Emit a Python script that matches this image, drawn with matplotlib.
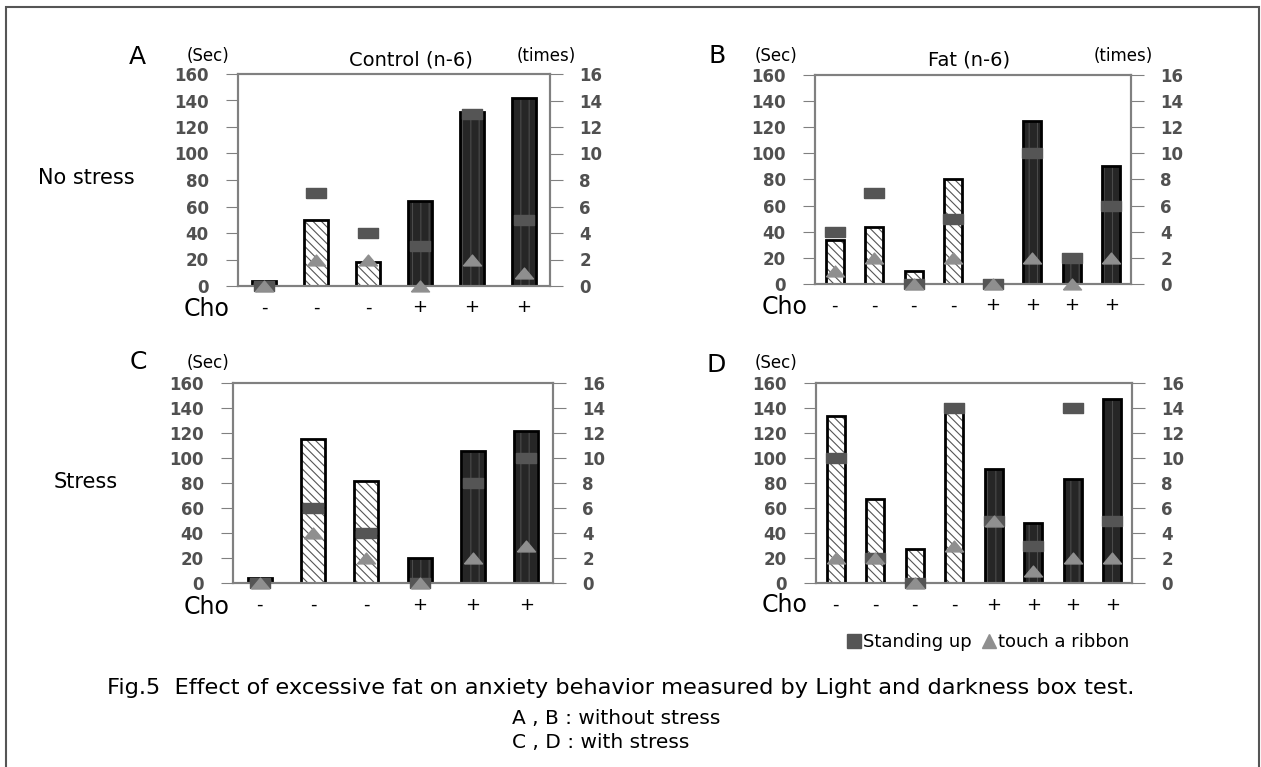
import numpy as np
import matplotlib.pyplot as plt
from matplotlib.lines import Line2D
from matplotlib.patches import Rectangle

# ------------------ DATA -----------------------------------------
cho_AC = ['-', '-', '-', '+', '+', '+']
cho_BD = ['-', '-', '-', '-', '+', '+', '+', '+']

sec_A = [4, 50, 18, 64, 131, 142]
stand_A = [0, 7, 4, 3, 13, 5]
ribbon_A = [0, 2, 2, 0, 2, 1]

sec_B = [34, 44, 10, 80, 0, 125, 18, 90]
stand_B = [4, 7, 0, 5, 0, 10, 2, 6]
ribbon_B = [1, 2, 0, 2, 0, 2, 0, 2]

sec_C = [4, 115, 82, 20, 106, 122]
stand_C = [0, 6, 4, 0, 8, 10]
ribbon_C = [0, 4, 2, 0, 2, 3]

sec_D = [134, 67, 27, 139, 91, 48, 83, 147]
stand_D = [10, 2, 0, 14, 5, 3, 14, 5]
ribbon_D = [2, 2, 0, 3, 5, 1, 2, 2]
# -----------------------------------------------------------------

W, H = 1261, 767
plt.rcParams['hatch.linewidth'] = 0.8

fig = plt.figure(figsize=(W / 100, H / 100), dpi=100)


def fx(px):
    return px / W


def fy(py):
    return 1 - py / H


def ftext(px, py, s, **kw):
    fig.text(fx(px), fy(py), s, ha=kw.pop('ha', 'center'), va=kw.pop('va', 'center'), **kw)


rect_marker = [(-1, -0.55), (1, -0.55), (1, 0.55), (-1, 0.55), (-1, -0.55)]
tri_marker = [(-1, -0.6), (1, -0.6), (0, 0.6), (-1, -0.6)]
frame_col = '#808080'


def panel(box, sec, stand, ribbon, cho):
    l, t, r, b = box
    ax = fig.add_axes([fx(l), fy(b), fx(r) - fx(l), fy(t) - fy(b)])
    x = np.arange(len(sec))
    for xi, v, c in zip(x, sec, cho):
        if c == '-':
            ax.bar(xi, v, width=0.45, color='white', hatch='\\\\\\\\',
                   edgecolor='#555555', linewidth=0)
        else:
            ax.bar(xi, v, width=0.45, color='#262626', hatch='||',
                   edgecolor='#4a4a4a', linewidth=0)
        ax.bar(xi, v, width=0.45, fill=False, edgecolor='black', linewidth=2)
    ax.set_xlim(-0.5, len(sec) - 0.5)
    ax.set_ylim(0, 160)
    ax.set_yticks(range(0, 161, 20))
    ax.set_xticks(x)
    ax.set_xticklabels(cho, fontsize=13)
    ax.tick_params(axis='x', length=0, pad=9)
    ax.tick_params(axis='y', direction='out', length=9, color=frame_col,
                   labelsize=12, labelcolor='#505050', pad=12)
    for lab in ax.get_yticklabels():
        lab.set_fontweight('bold')

    ax2 = ax.twinx()
    ax2.plot(x, stand, ls='none', marker=rect_marker, ms=14,
             color='#555555', clip_on=False, zorder=3)
    ax2.plot(x, ribbon, ls='none', marker=tri_marker, ms=13,
             color='#8f8f8f', clip_on=False, zorder=4)
    ax2.set_ylim(0, 16)
    ax2.set_yticks(range(0, 17, 2))
    ax2.tick_params(axis='y', direction='out', length=9, color=frame_col,
                    labelsize=12, labelcolor='#505050', pad=12)
    for lab in ax2.get_yticklabels():
        lab.set_fontweight('bold')
    for a in (ax, ax2):
        for sp in a.spines.values():
            sp.set_color(frame_col)
            sp.set_linewidth(1.5)
    return ax


panel((238, 74, 550, 286), sec_A, stand_A, ribbon_A, cho_AC)
panel((815, 75, 1131, 284), sec_B, stand_B, ribbon_B, cho_BD)
panel((233, 383, 553, 583), sec_C, stand_C, ribbon_C, cho_AC)
panel((816, 383, 1132, 583), sec_D, stand_D, ribbon_D, cho_BD)

# panel letters and labels
for px, py, s in [(137, 57, 'A'), (717, 56, 'B'), (138, 362, 'C'), (716, 365, 'D')]:
    ftext(px, py, s, fontsize=18)
for px, py in [(208, 56), (776, 56), (208, 363), (776, 363)]:
    ftext(px, py, '(Sec)', fontsize=12)
ftext(546, 56, '(times)', fontsize=12)
ftext(1123, 56, '(times)', fontsize=12)
ftext(411, 60, 'Control (n-6)', fontsize=14)
ftext(969, 60, 'Fat (n-6)', fontsize=14)
for px, py in [(207, 309), (785, 307), (207, 607), (785, 605)]:
    ftext(px, py, 'Cho', fontsize=17)
ftext(86, 178, 'No stress', fontsize=15)
ftext(86, 482, 'Stress', fontsize=15)

# legend
handles = [Line2D([], [], ls='none', marker='s', ms=10, color='#555555'),
           Line2D([], [], ls='none', marker='^', ms=10, color='#8f8f8f')]
fig.legend(handles, ['Standing up', 'touch a ribbon'], loc='center',
           bbox_to_anchor=(fx(988), fy(642)), ncol=2, frameon=False,
           fontsize=13, handletextpad=0.05, columnspacing=0.6,
           handlelength=0.8)

# caption
ftext(107, 688, 'Fig.5  Effect of excessive fat on anxiety behavior measured by Light and darkness box test.',
      fontsize=16.2, ha='left')
ftext(512, 718, 'A , B : without stress', fontsize=14.5, ha='left')
ftext(512, 743, 'C , D : with stress', fontsize=14.5, ha='left')

# outer frame (bottom edge runs off the picture)
fig.patches.append(Rectangle((fx(6), -0.05), fx(1259) - fx(6), fy(7) + 0.05,
                             transform=fig.transFigure, fill=False,
                             edgecolor='#555555', linewidth=1.5))

fig.savefig('out.png', dpi=100)
